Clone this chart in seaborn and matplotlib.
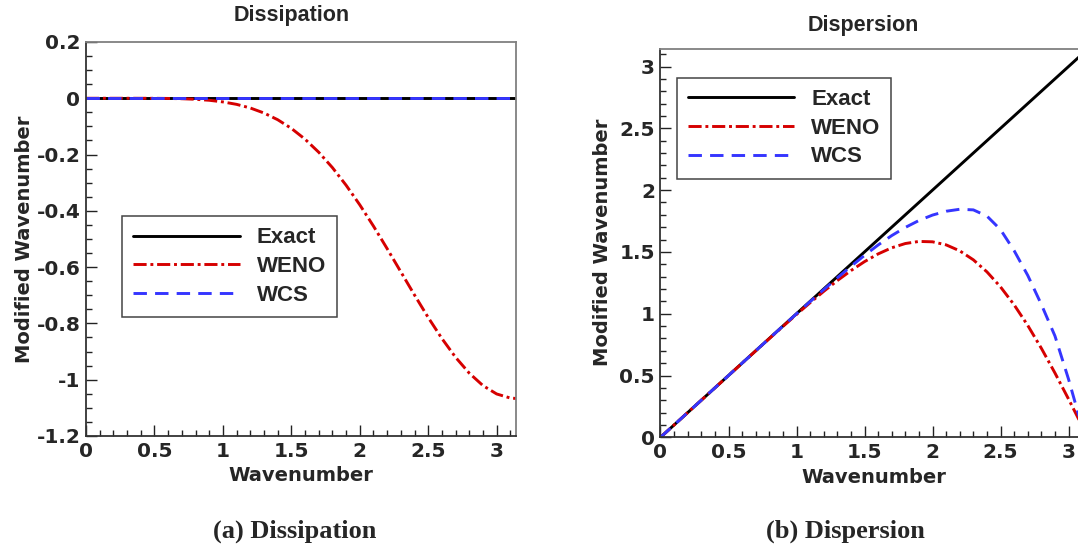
import numpy as np
import pandas as pd
import matplotlib
matplotlib.use('Agg')
import matplotlib.pyplot as plt
import matplotlib.ticker as mticker
import seaborn as sns

sns.set_style('ticks')
plt.rcParams['font.family'] = ['Liberation Sans', 'DejaVu Sans']
plt.rcParams['font.weight'] = 'bold'

# wavenumber samples (0 .. pi)
wavenumber = [0.0, 0.1, 0.2, 0.3, 0.4, 0.5, 0.6, 0.7, 0.8, 0.9, 1.0,
              1.1, 1.2, 1.3, 1.4, 1.5, 1.6, 1.7, 1.8, 1.9, 2.0,
              2.1, 2.2, 2.3, 2.4, 2.5, 2.6, 2.7, 2.8, 2.9, 3.0,
              3.1, 3.1416]

# dissipation (real part of modified wavenumber)
exact_diss = [0.0, 0.0, 0.0, 0.0, 0.0, 0.0, 0.0, 0.0, 0.0, 0.0, 0.0,
              0.0, 0.0, 0.0, 0.0, 0.0, 0.0, 0.0, 0.0, 0.0, 0.0,
              0.0, 0.0, 0.0, 0.0, 0.0, 0.0, 0.0, 0.0, 0.0, 0.0,
              0.0, 0.0]
weno_diss = [0.0, 0.0, 0.0, 0.0, -0.0001, -0.0002, -0.0007, -0.0017, -0.0037, -0.0072, -0.013,
             -0.0217, -0.0346, -0.0524, -0.0762, -0.107, -0.1454, -0.1918, -0.2464, -0.309, -0.3787,
             -0.4543, -0.5345, -0.6169, -0.6993, -0.7791, -0.8537, -0.9205, -0.9768, -1.021, -1.0507,
             -1.0652, -1.0667]
wcs_diss = [0.0, 0.0, 0.0, 0.0, 0.0, 0.0, 0.0, 0.0, 0.0, 0.0, 0.0,
            0.0, 0.0, 0.0, 0.0, 0.0, 0.0, 0.0, 0.0, 0.0, 0.0,
            0.0, 0.0, 0.0, 0.0, 0.0, 0.0, 0.0, 0.0, 0.0, 0.0,
            0.0, 0.0]

# dispersion (imaginary part of modified wavenumber)
exact_disp = [0.0, 0.1, 0.2, 0.3, 0.4, 0.5, 0.6, 0.7, 0.8, 0.9, 1.0,
              1.1, 1.2, 1.3, 1.4, 1.5, 1.6, 1.7, 1.8, 1.9, 2.0,
              2.1, 2.2, 2.3, 2.4, 2.5, 2.6, 2.7, 2.8, 2.9, 3.0,
              3.1, 3.1416]
weno_disp = [0.0, 0.1, 0.2, 0.3, 0.4, 0.5, 0.5998, 0.6995, 0.7987, 0.8971, 0.9941,
             1.089, 1.1807, 1.2678, 1.3486, 1.4213, 1.4837, 1.5333, 1.5678, 1.5847, 1.5817,
             1.5569, 1.5086, 1.436, 1.3385, 1.2167, 1.0716, 0.9052, 0.7204, 0.5204, 0.3092,
             0.0914, 0.0]
wcs_disp = [0.0, 0.1, 0.2, 0.3, 0.4, 0.5, 0.6, 0.7, 0.8, 0.9, 0.9995,
            1.098, 1.195, 1.29, 1.383, 1.472, 1.556, 1.632, 1.698, 1.754, 1.798,
            1.829, 1.845, 1.84, 1.79, 1.68, 1.51, 1.31, 1.075, 0.82, 0.47,
            0.08, 0.0]

schemes = ['Exact', 'WENO', 'WCS']
colors = {'Exact': 'black', 'WENO': '#d60000', 'WCS': '#3535ff'}
dashes = {'Exact': None, 'WENO': (4.5, 1.3, 1.0, 1.3), 'WCS': (4.6, 2.8)}

tick_font = ['DejaVu Sans']
serif = ['Liberation Serif', 'DejaVu Serif']


def draw(ax, curves):
    for name, vals in zip(schemes, curves):
        sns.lineplot(x=wavenumber, y=vals, ax=ax, color=colors[name], lw=2.1,
                     label=name, legend=False)
        if dashes[name] is not None:
            ax.lines[-1].set_dashes(dashes[name])


def fmt(v, pos):
    return f'{round(v, 2):g}'.replace('\u2212', '-')


def style(ax, ylim, ymaj, ymin):
    ax.set_xlim(0, np.pi)
    ax.set_ylim(*ylim)
    ax.xaxis.set_major_locator(mticker.MultipleLocator(0.5))
    ax.xaxis.set_minor_locator(mticker.MultipleLocator(0.1))
    ax.yaxis.set_major_locator(mticker.MultipleLocator(ymaj))
    ax.yaxis.set_minor_locator(mticker.MultipleLocator(ymin))
    ax.xaxis.set_major_formatter(mticker.FuncFormatter(fmt))
    ax.yaxis.set_major_formatter(mticker.FuncFormatter(fmt))
    ax.tick_params(which='both', direction='in', top=False, right=False,
                   width=1, color='#222222')
    ax.tick_params(which='major', length=8, pad=4)
    ax.tick_params(which='minor', length=4.5)
    for t in ax.get_xticklabels() + ax.get_yticklabels():
        t.set_fontweight('bold')
        t.set_fontsize(14.5)
        t.set_family(tick_font)
    for s in ['top', 'right']:
        ax.spines[s].set_color('#808080')
        ax.spines[s].set_linewidth(1.3)
    for s in ['left', 'bottom']:
        ax.spines[s].set_color('#333333')
        ax.spines[s].set_linewidth(1.3)
    ax.set_xlabel('Wavenumber', fontsize=14, fontweight='bold', family=tick_font)
    ax.set_ylabel('Modified Wavenumber', fontsize=14, fontweight='bold', family=tick_font)


def add_legend(ax, anchor):
    leg = ax.legend(loc='upper left', bbox_to_anchor=anchor, fontsize=16,
                    handlelength=4.8, handletextpad=0.75, labelspacing=0.35,
                    borderpad=0.5, borderaxespad=0, fancybox=False,
                    framealpha=1, edgecolor='#444444')
    leg.get_frame().set_linewidth(1.1)
    for t in leg.get_texts():
        t.set_fontweight('bold')


fig = plt.figure(figsize=(10.78, 5.5), dpi=100)
ax1 = fig.add_axes([0.0798, 0.2073, 0.3989, 0.7164])
ax2 = fig.add_axes([0.6127, 0.2049, 0.3964, 0.706])

draw(ax1, [exact_diss, weno_diss, wcs_diss])
style(ax1, (-1.2, 0.2), 0.2, 0.05)
add_legend(ax1, (0.0844, 0.5576))
ax1.xaxis.set_label_coords(0.5, -0.076)
ax1.yaxis.set_label_coords(-0.12, 0.5)

draw(ax2, [exact_disp, weno_disp, wcs_disp])
style(ax2, (0, np.pi), 0.5, 0.1)
add_legend(ax2, (0.0379, 0.926))
ax2.xaxis.set_label_coords(0.5, -0.079)
ax2.yaxis.set_label_coords(-0.113, 0.503)

fig.text(292 / 1078, 1 - 16 / 550, 'Dissipation', ha='center', va='center',
         fontsize=15.5, fontweight='bold')
fig.text(863 / 1078, 1 - 25 / 550, 'Dispersion', ha='center', va='center',
         fontsize=15.5, fontweight='bold')

fig.text(295 / 1078, 1 - 531 / 550, '(a) Dissipation', ha='center', va='center',
         fontsize=19, fontweight='bold', family=serif)
fig.text(845 / 1078, 1 - 531 / 550, '(b) Dispersion', ha='center', va='center',
         fontsize=19, fontweight='bold', family=serif)

fig.savefig('out.png', dpi=100)
